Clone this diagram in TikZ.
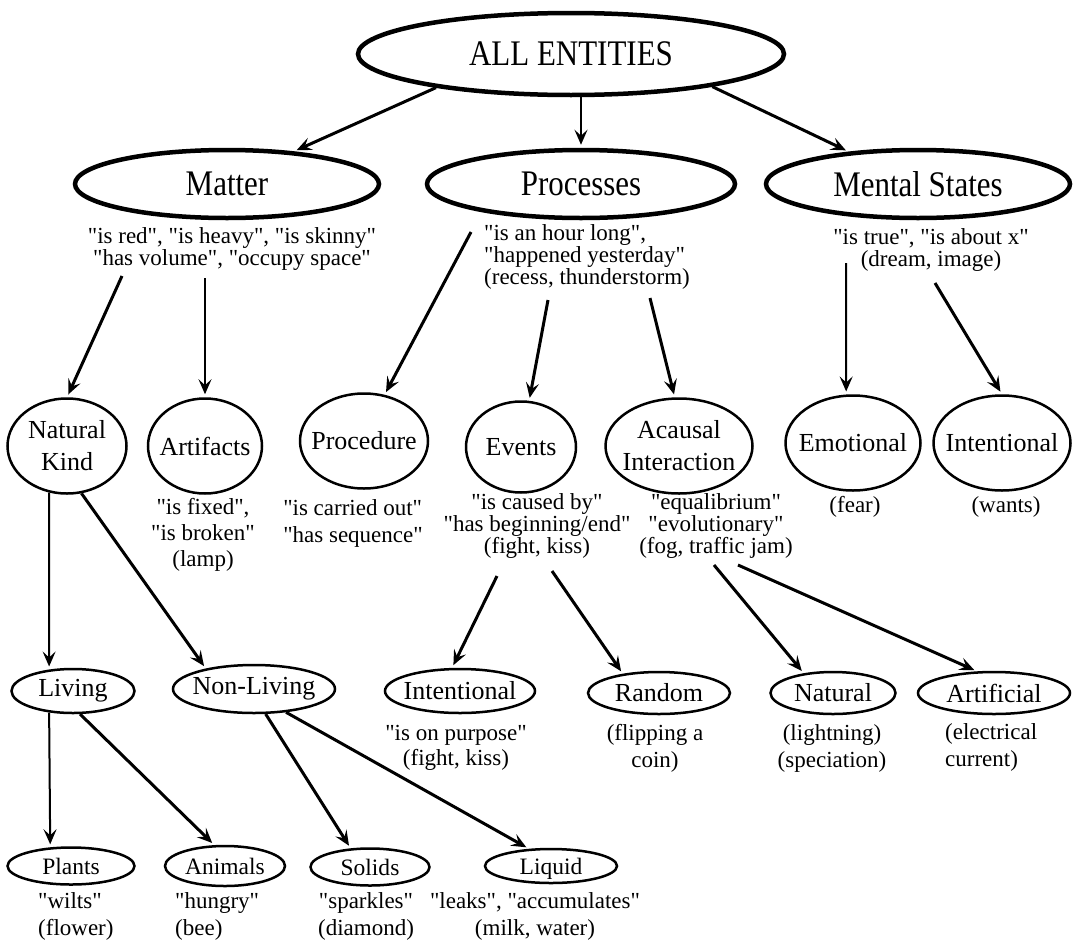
\documentclass[tikz,border=0pt]{standalone}
\usepackage{fontspec}
\setmainfont{Liberation Serif}[Ligatures=TeXOff]
\newfontfamily\tallfont{Liberation Serif}[FakeStretch=0.86, Ligatures=TeXOff]
\usetikzlibrary{shapes.geometric, arrows.meta, positioning}

\begin{document}
\begin{tikzpicture}[
  x=1pt, y=-1pt,
  >={Stealth[length=15pt, width=13pt, inset=6pt]},
  every node/.style={align=center},
  topnode/.style={ellipse, draw, line width=4.5pt, inner ysep=0pt, inner xsep=-20pt,
                  minimum width=304pt, minimum height=68pt,
                  font=\tallfont\fontsize{36}{38}\selectfont},
  midnode/.style={ellipse, draw, line width=2.5pt, inner ysep=0pt, inner xsep=-20pt,
                  minimum height=95pt, font=\fontsize{26}{32}\selectfont},
  lownode/.style={ellipse, draw, line width=2.5pt, inner ysep=0pt, inner xsep=-20pt,
                  minimum height=44pt, font=\fontsize{26}{30}\selectfont},
  leafnode/.style={ellipse, draw, line width=2.5pt, inner ysep=0pt, inner xsep=-20pt,
                   minimum height=37pt, font=\fontsize{23.5}{26}\selectfont},
  note/.style={inner sep=0pt, font=\fontsize{23}{22}\selectfont},
  arr/.style={->, line width=3pt, shorten >=3pt},
  thinarr/.style={->, line width=2pt, shorten >=3pt}
]
\useasboundingbox (0,0) rectangle (1073,945);

%% ── Root ──────────────────────────────────────────────────────────────────
\node[topnode, minimum width=426pt, minimum height=82pt] (all) at (571,54) {ALL ENTITIES};

%% ── Row 1 : Matter / Processes / Mental States ────────────────────────────
\node[topnode] (matter) at (227,184) {Matter};
\node[topnode, minimum width=308pt] (procs) at (581,184) {Processes};
\node[topnode] (mental) at (918,184) {Mental States};

\draw[arr] (all.194) -- (matter.26);
\draw[thinarr] (all.south -| procs.north) -- (procs.north);
\draw[arr] (all.347) -- (mental.155);

\node[note] (mattxt) at (232,249)
      {"is red", "is heavy", "is skinny"\\"has volume", "occupy space"};
\node[note, anchor=west, align=left] (proctxt) at (484,257)
      {"is an hour long",\\"happened yesterday"\\(recess, thunderstorm)};
\node[note] (menttxt) at (931,250) {"is true", "is about x"\\(dream, image)};

%% ── Row 2 ─────────────────────────────────────────────────────────────────
\node[midnode, minimum width=119pt] (natkind) at (67,446) {Natural\\Kind};
\node[midnode, minimum width=114pt] (artif)   at (205,446) {Artifacts};
\node[midnode, minimum width=128pt] (procd)   at (364,441) {Procedure};
\node[midnode, minimum width=110pt, minimum height=91pt] (events) at (521,447) {Events};
\node[midnode, minimum width=147pt] (acaus)   at (679,446) {Acausal\\Interaction};
\node[midnode, minimum width=135pt] (emot)    at (853,443) {Emotional};
\node[midnode, minimum width=137pt] (inten)   at (1002,443) {Intentional};

\coordinate (matL)  at (122,276);
\coordinate (matR)  at (205,278);
\coordinate (procL) at (471,232);
\coordinate (procM) at (548,300);
\coordinate (procR) at (650,298);
\coordinate (mentL) at (846,263);
\coordinate (mentR) at (935,283);

\foreach \a/\b in {matL/natkind.north, procL/procd.66, procM/events.80,
                   procR/acaus.95, mentR/inten.north}
  \draw[arr] (\a) -- (\b);
\foreach \a/\b in {matR/artif.north, mentL/emot.98}
  \draw[thinarr] (\a) -- (\b);

\node[note, font=\fontsize{23}{26}\selectfont] (artiftxt) at (203,535)
      {"is fixed",\\"is broken"\\(lamp)};
\node[note, align=left, font=\fontsize{23}{27}\selectfont] (procdtxt) at (353,523)
      {"is carried out"\\"has sequence"};
\node[note] (evtxt) at (537,526) {"is caused by"\\"has beginning/end"\\(fight, kiss)};
\node[note] (acaustxt) at (716,526) {"equalibrium"\\"evolutionary"\\(fog, traffic jam)};
\node[note] (emottxt) at (855,507) {(fear)};
\node[note] (intentxt) at (1006,507) {(wants)};

%% ── Row 3 ─────────────────────────────────────────────────────────────────
\node[lownode, minimum width=123pt] (living)  at (73,691) {Living};
\node[lownode, minimum width=162pt, minimum height=48pt] (nonliv) at (254,689) {Non-Living};
\node[lownode, minimum width=150pt] (intent2) at (460,691) {Intentional};
\node[lownode, minimum width=142pt, minimum height=42pt] (random)  at (659,693) {Random};
\node[lownode, minimum width=125pt, minimum height=42pt] (natural) at (833,693) {Natural};
\node[lownode, minimum width=152pt, minimum height=42pt] (artific) at (994,693) {Artificial};

\coordinate (evL) at (497,576);
\coordinate (evR) at (552,571);
\coordinate (acL) at (714,565);
\coordinate (acR) at (738,565);

\draw[thinarr] (natkind.249) -- (living.138);
\draw[arr] (natkind.287) -- (nonliv.157);
\foreach \a/\b in {evL/intent2.109, evR/random.152, acL/natural.146, acR/artific.128}
  \draw[arr] (\a) -- (\b);

\node[note, font=\fontsize{23}{25}\selectfont] (intent2txt) at (456,748)
      {"is on purpose"\\(fight, kiss)};
\node[note, font=\fontsize{23}{27}\selectfont] (randtxt) at (655,748) {(flipping a\\coin)};
\node[note, font=\fontsize{23}{27}\selectfont] (nattxt) at (832,748) {(lightning)\\(speciation)};
\node[note, anchor=west, align=left, font=\fontsize{23}{27}\selectfont] (artitxt) at (945,747)
      {(electrical\\current)};

%% ── Row 4 ─────────────────────────────────────────────────────────────────
\node[leafnode, minimum width=127pt] (plants) at (71,866) {Plants};
\node[leafnode, minimum width=120pt, minimum height=40pt] (animals) at (225,866) {Animals};
\node[leafnode, minimum width=119pt, text depth=0pt] (solids) at (370,867) {Solids};
\node[leafnode, minimum width=132pt, minimum height=34pt, text depth=0pt] (liquid) at (551,866) {Liquid};

\draw[thinarr] (living.222) -- (plants.138);
\draw[arr] (living.287) -- (animals.117);
\draw[arr] (nonliv.295) -- (solids.136);
\draw[arr] (nonliv.324) -- (liquid.142);

\node[note, anchor=west, align=left, font=\fontsize{23}{27}\selectfont] (planttxt) at (38,916)
      {"wilts"\\(flower)};
\node[note, anchor=west, align=left, font=\fontsize{23}{27}\selectfont] (animtxt) at (175,916)
      {"hungry"\\(bee)};
\node[note, font=\fontsize{23}{27}\selectfont] (soltxt) at (366,916) {"sparkles"\\(diamond)};
\node[note, font=\fontsize{23}{27}\selectfont] (liqtxt) at (535,916)
      {"leaks", "accumulates"\\(milk, water)};

\end{tikzpicture}
\end{document}
